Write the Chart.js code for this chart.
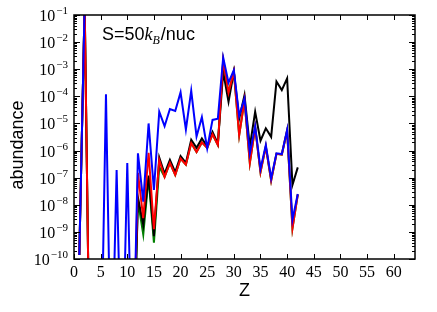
<!DOCTYPE html>
<html>
<head>
<meta charset="utf-8">
<script src="https://cdn.jsdelivr.net/npm/chart.js@4.4.1/dist/chart.umd.min.js"></script>
<style>
  html, body { margin: 0; padding: 0; background: #fff; }
</style>
</head>
<body>
<canvas id="abund" width="437" height="312"></canvas>
<script>
// proton number
var Z = [1, 2, 3, 4, 5, 6, 7, 8, 9, 10, 11, 12, 13, 14, 15, 16, 17, 18, 19, 20, 21,
         22, 23, 24, 25, 26, 27, 28, 29, 30, 31, 32, 33, 34, 35, 36, 37, 38, 39, 40, 41, 42];

var blueY = [1.4e-10, 2.5e-1, null, null, 1e-15, 1.2e-4, 1e-15, 1.9e-7, 1e-15, 3.5e-7, 1e-15,
             7.9e-7, 1.3e-8, 1.0e-5, 3.5e-8, 2.7e-5, 7.9e-6, 3.4e-5, 2.9e-5, 1.4e-4, 6.0e-6,
             1.6e-4, 3.3e-6, 1.7e-5, 1.2e-6, 1.35e-5, 1.5e-5, 2.7e-3, 3.2e-4, 9.3e-4, 1.9e-5,
             8.3e-5, 7.9e-7, 7.9e-6, 2.1e-7, 1.6e-6, 9.3e-8, 7.9e-7, 7.4e-7, 5.8e-6, 2.8e-9, 2.5e-8];

var redY = [1.4e-10, 2.5e-1, 1e-15, 1e-15, 1e-15, 1e-15, 1e-15, 1e-15, 1e-15, 1e-15, 1e-15,
            1.5e-7, 3.2e-9, 8.3e-7, 1.26e-9, 4.5e-7, 1.07e-7, 3.5e-7, 1.26e-7, 5.1e-7, 3.0e-7,
            1.9e-6, 8.9e-7, 2.0e-6, 1.26e-6, 4.0e-6, 1.6e-6, 2.1e-3, 1.35e-4, 8.3e-4, 3.7e-6,
            7.2e-5, 3.5e-7, 7.1e-6, 1.6e-7, 1.4e-6, 7.9e-8, 7.6e-7, 7.1e-7, 5.5e-6, 1.35e-9, 2.4e-8];

var greenY = [1.4e-10, 2.5e-1, 1e-15, 1e-15, 1e-15, 1e-15, 1e-15, 1e-15, 1e-15, 1e-15, 1e-15,
              1.4e-8, 8e-10, 1.0e-7, 4e-10, 2.5e-7, 1.07e-7, 3.5e-7, 1.26e-7, 5.1e-7, 3.0e-7,
              1.9e-6, 8.9e-7, 2.0e-6, 1.26e-6, 4.0e-6, 1.6e-6, 2.1e-3, 1.35e-4, 8.3e-4, 3.7e-6,
              7.2e-5, 3.5e-7, 7.1e-6, 1.6e-7, 1.4e-6, 7.9e-8, 7.6e-7, 7.1e-7, 5.5e-6, 1.35e-9, 2.4e-8];

var blackY = [1.4e-10, 2.5e-1, 1e-15, 1e-15, 1e-15, 1e-15, 1e-15, 1e-15, 1e-15, 1e-15, 1e-15,
              1.9e-8, 1.8e-9, 1.2e-7, 7e-10, 5.6e-7, 1.4e-7, 4.5e-7, 1.6e-7, 6.3e-7, 3.5e-7,
              2.5e-6, 1.26e-6, 2.8e-6, 1.4e-6, 4.9e-6, 1.8e-6, 8.1e-4, 6.3e-5, 8.1e-4, 1.5e-5,
              1.1e-4, 1.4e-6, 2.7e-5, 2.3e-6, 6.6e-6, 3.2e-6, 3.5e-4, 1.7e-4, 4.6e-4, 5.4e-8, 2.4e-7];

var xTicks = [0, 5, 10, 15, 20, 25, 30, 35, 40, 45, 50, 55, 60];
var yExp = [-1, -2, -3, -4, -5, -6, -7, -8, -9, -10];

var SERIF = '"Liberation Serif", "DejaVu Serif", serif';
var SANS = '"Liberation Sans", Arial, sans-serif';

function pts(arr) {
    return Z.map(function (z, i) { return { x: z, y: arr[i] }; });
}

function line(arr, col) {
    return {
        data: pts(arr),
        borderColor: col,
        borderWidth: 2,
        pointRadius: 0,
        tension: 0,
        fill: false
    };
}

// ticks, labels, frame and text in matplotlib style
var frame = {
    id: 'frame',
    afterDraw: function (chart) {
        var ctx = chart.ctx, a = chart.chartArea;
        var xs = chart.scales.x, ys = chart.scales.y;
        ctx.save();
        ctx.strokeStyle = '#000';
        ctx.fillStyle = '#000';
        ctx.lineWidth = 1;

        ctx.beginPath();
        xTicks.forEach(function (v) {
            var px = Math.round(xs.getPixelForValue(v)) + 0.5;
            ctx.moveTo(px, a.bottom); ctx.lineTo(px, a.bottom - 5);
            ctx.moveTo(px, a.top); ctx.lineTo(px, a.top + 5);
        });
        yExp.forEach(function (e) {
            var py = Math.round(ys.getPixelForValue(Math.pow(10, e))) + 0.5;
            ctx.moveTo(a.left, py); ctx.lineTo(a.left + 6, py);
            ctx.moveTo(a.right, py); ctx.lineTo(a.right - 6, py);
            if (e < -1) {
                for (var m = 2; m <= 9; m++) {
                    var pm = Math.round(ys.getPixelForValue(m * Math.pow(10, e))) + 0.5;
                    ctx.moveTo(a.left, pm); ctx.lineTo(a.left + 3, pm);
                    ctx.moveTo(a.right, pm); ctx.lineTo(a.right - 3, pm);
                }
            }
        });
        ctx.stroke();

        ctx.lineWidth = 1.5;
        ctx.strokeRect(a.left, a.top, a.right - a.left, a.bottom - a.top);

        // x tick labels
        ctx.font = '16px ' + SERIF;
        ctx.textAlign = 'center';
        ctx.textBaseline = 'alphabetic';
        xTicks.forEach(function (v) {
            ctx.fillText(String(v), xs.getPixelForValue(v), 277);
        });

        // y tick labels 10^e
        ctx.textAlign = 'left';
        yExp.forEach(function (e) {
            var py = ys.getPixelForValue(Math.pow(10, e));
            var ex = '\u2212' + (-e);
            ctx.font = '11px ' + SERIF;
            var ew = ctx.measureText(ex).width;
            ctx.font = '16px ' + SERIF;
            var bw = ctx.measureText('10').width;
            var xr = 68;
            ctx.fillText('10', xr - ew - bw - 1, py + 6);
            ctx.font = '11px ' + SERIF;
            ctx.fillText(ex, xr - ew, py - 1);
        });

        // axis titles
        ctx.font = '18px ' + SANS;
        ctx.textAlign = 'center';
        ctx.fillText('Z', (a.left + a.right) / 2, 296);
        ctx.save();
        ctx.translate(23, 145);
        ctx.rotate(-Math.PI / 2);
        ctx.fillText('abundance', 0, 0);
        ctx.restore();

        // annotation S=50 k_B/nuc
        ctx.textAlign = 'left';
        var x0 = 102, yb = 40;
        ctx.font = '18px ' + SANS;
        ctx.fillText('S=50', x0, yb);
        x0 += ctx.measureText('S=50').width;
        ctx.font = 'italic 18px ' + SERIF;
        ctx.fillText('k', x0, yb);
        x0 += ctx.measureText('k').width;
        ctx.font = 'italic 12px ' + SERIF;
        ctx.fillText('B', x0, yb + 4);
        x0 += ctx.measureText('B').width + 1;
        ctx.font = '18px ' + SANS;
        ctx.fillText('/nuc', x0, yb);

        ctx.restore();
    }
};

new Chart(document.getElementById('abund'), {
    type: 'line',
    data: {
        datasets: [
            line(blueY, '#0000ff'),
            line(redY, '#ff0000'),
            line(blackY, '#000000'),
            line(greenY, '#008000')
        ]
    },
    options: {
        responsive: false,
        animation: false,
        spanGaps: false,
        layout: { padding: { left: 0, right: 22, top: 15, bottom: 0 } },
        plugins: { legend: { display: false }, tooltip: { enabled: false } },
        scales: {
            x: {
                type: 'linear',
                min: 0,
                max: 64,
                grid: { display: false, drawTicks: false },
                border: { display: false },
                ticks: { display: false },
                afterFit: function (s) { s.height = 53; }
            },
            y: {
                type: 'logarithmic',
                min: 1e-10,
                max: 1e-1,
                grid: { display: false, drawTicks: false },
                border: { display: false },
                ticks: { display: false },
                afterFit: function (s) { s.width = 74; }
            }
        }
    },
    plugins: [frame]
});
</script>
</body>
</html>
